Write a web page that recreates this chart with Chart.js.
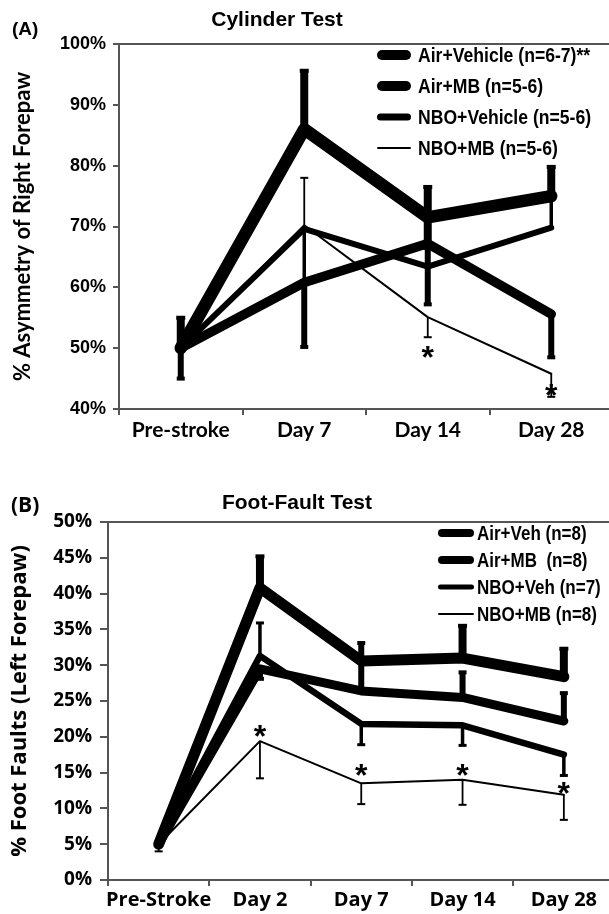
<!DOCTYPE html>
<html><head><meta charset="utf-8">
<script src="https://cdn.jsdelivr.net/npm/chart.js@4/dist/chart.umd.min.js"></script>
<style>
html,body{margin:0;padding:0;background:#fff;overflow:hidden;width:609px;height:914px}
#wrap{position:relative;width:609px;height:914px;overflow:hidden;background:#fff}
canvas{position:absolute;left:0}
#cA{top:0}#cB{top:457px}
</style></head><body>
<div id="wrap"><canvas id="cA" width="620" height="457"></canvas><canvas id="cB" width="620" height="457"></canvas></div>
<script>
// ---------- Panel A: Cylinder Test ----------
const catsA = ['Pre-stroke', 'Day 7', 'Day 14', 'Day 28'];
const ticksA = [40, 50, 60, 70, 80, 90, 100];
const labelsA = ['Air+Vehicle (n=6-7)**', 'Air+MB (n=5-6)', 'NBO+Vehicle (n=5-6)', 'NBO+MB (n=5-6)'];
const airVehA = [50, 86, 71.5, 75];
const airMbA = [50, 60.8, 67.2, 55.6];
const nboVehA = [50, 69.6, 63.4, 69.8];
const nboMbA = [50, 70.2, 55.1, 45.8];
const airVehA_up = [5, 9.6, 5, 4.8];
const airVehA_dn = [null, null, 5, null];
const airMbA_up = [null, null, null, null];
const airMbA_dn = [5, 10.6, 10, 7.1];
const nboVehA_up = [null, null, null, 5];
const nboVehA_dn = [null, 8.8, null, null];
const nboMbA_up = [null, 7.8, null, null];
const nboMbA_dn = [null, null, 3.3, 3.8];
const starsA = [null, null, 49.3, 43.1];

// ---------- Panel B: Foot-Fault Test ----------
const catsB = ['Pre-Stroke', 'Day 2', 'Day 7', 'Day 14', 'Day 28'];
const ticksB = [0, 5, 10, 15, 20, 25, 30, 35, 40, 45, 50];
const labelsB = ['Air+Veh (n=8)', 'Air+MB  (n=8)', 'NBO+Veh (n=7)', 'NBO+MB (n=8)'];
const airVehB = [5, 40.8, 30.6, 31.0, 28.4];
const airMbB = [5, 29.5, 26.4, 25.5, 22.2];
const nboVehB = [5, 31.3, 21.8, 21.6, 17.5];
const nboMbB = [5, 19.4, 13.5, 14.0, 11.9];
const airVehB_up = [null, 4.4, null, 4.5, 3.9];
const airVehB_dn = [null, null, null, null, null];
const airMbB_up = [null, null, 6.7, 3.5, 3.9];
const airMbB_dn = [null, 1.4, null, null, null];
const nboVehB_up = [null, 4.6, null, null, null];
const nboVehB_dn = [null, null, 2.9, 2.8, 2.9];
const nboMbB_up = [null, null, null, null, null];
const nboMbB_dn = [1, 5.2, 2.9, 3.5, 3.5];
const starsB = [null, 20.8, 15.4, 15.4, 12.8];

// ---------- styling ----------
const AXIS = '#555';
const errW = [8, 6, 3.5, 1.8];
const capW = [9, 8, 8, 8];
const capH = [4, 4, 3, 2];

function mkDatasets(labels, vals, ups, dns, lineW) {
  return vals.map((v, k) => ({
    label: labels[k], data: v,
    borderColor: '#000', backgroundColor: '#000',
    borderWidth: lineW[k], pointRadius: 0, pointHoverRadius: 0,
    borderCapStyle: 'round', borderJoinStyle: 'round', tension: 0, fill: false,
    errUp: ups[k], errDn: dns[k], errW: errW[k], capW: capW[k], capH: capH[k]
  }));
}

const deco = {
  id: 'deco',
  afterDatasetsDraw(chart, args, o) {
    const ctx = chart.ctx, ys = chart.scales.y;
    ctx.save();
    chart.data.datasets.forEach((ds, di) => {
      const meta = chart.getDatasetMeta(di);
      meta.data.forEach((pt, i) => {
        const v = ds.data[i];
        [[ds.errUp, 1], [ds.errDn, -1]].forEach(([arr, sg]) => {
          if (!arr || arr[i] == null) return;
          const y0 = ys.getPixelForValue(v), y1 = ys.getPixelForValue(v + sg * arr[i]);
          ctx.strokeStyle = '#000'; ctx.lineWidth = ds.errW; ctx.lineCap = 'butt';
          ctx.beginPath(); ctx.moveTo(pt.x, y0); ctx.lineTo(pt.x, y1); ctx.stroke();
          ctx.fillStyle = '#000';
          ctx.fillRect(pt.x - ds.capW / 2, y1 - ds.capH / 2, ds.capW, ds.capH);
        });
      });
    });
    const meta0 = chart.getDatasetMeta(0);
    ctx.fillStyle = '#000';
    ctx.font = o.starFont;
    ctx.textAlign = 'center'; ctx.textBaseline = 'alphabetic';
    const m = ctx.measureText('*');
    const off = (m.actualBoundingBoxAscent - m.actualBoundingBoxDescent) / 2;
    o.stars.forEach((s, i) => {
      if (s == null) return;
      ctx.fillText('*', meta0.data[i].x, ys.getPixelForValue(s) + off);
    });
    ctx.restore();
  },
  afterDraw(chart, args, o) {
    const ctx = chart.ctx, ca = chart.chartArea;
    ctx.save();
    ctx.strokeStyle = AXIS; ctx.lineWidth = 2;
    ctx.beginPath(); ctx.moveTo(ca.left - 1, ca.top); ctx.lineTo(chart.width, ca.top); ctx.stroke();
    ctx.fillStyle = '#000'; ctx.textBaseline = 'middle';
    ctx.font = o.titleFont; ctx.textAlign = 'center';
    ctx.fillText(o.title, o.titleX, o.titleY);
    ctx.font = o.panelFont; ctx.textAlign = 'left';
    ctx.fillText(o.panel, o.panelX, o.panelY);
    chart.data.datasets.forEach((ds, k) => {
      const y = o.legY + k * o.legStep;
      ctx.strokeStyle = '#000'; ctx.lineCap = 'round'; ctx.lineWidth = o.legW[k];
      ctx.beginPath(); ctx.moveTo(o.legX1 + o.legW[k] / 2, y); ctx.lineTo(o.legX2 - o.legW[k] / 2, y); ctx.stroke();
      ctx.font = o.legFont; ctx.textAlign = 'left'; ctx.textBaseline = 'middle';
      ctx.save(); ctx.translate(o.legTX, y); ctx.scale(o.legSX, 1);
      ctx.fillText(ds.label, 0, 1); ctx.restore();
    });
    ctx.restore();
  }
};

function mkOptions(cfg) {
  return {
    responsive: false, animation: false, devicePixelRatio: 1,
    layout: { padding: { top: cfg.top, right: cfg.right, left: 0, bottom: 0 } },
    plugins: { legend: { display: false }, tooltip: { enabled: false }, deco: cfg.deco },
    scales: {
      x: {
        type: 'category', offset: true,
        afterFit: s => { s.height = cfg.xh; },
        grid: { offset: true, drawOnChartArea: false, tickLength: 6, color: AXIS, lineWidth: 2 },
        border: { color: AXIS, width: 2 },
        ticks: { color: '#000', padding: cfg.xpad, maxRotation: 0, autoSkip: false, font: cfg.xFont }
      },
      y: {
        min: cfg.min, max: cfg.max,
        afterFit: s => { s.width = cfg.yw; },
        afterBuildTicks: s => { s.ticks = cfg.ticks.map(v => ({ value: v })); },
        grid: { drawOnChartArea: false, tickLength: cfg.ytl, color: AXIS, lineWidth: 2 },
        border: { color: AXIS, width: 2 },
        ticks: { color: '#000', padding: cfg.ypad, font: cfg.yFont, callback: v => v + '%' },
        title: { display: true, text: cfg.ytitle, color: '#000', font: cfg.yTitleFont, padding: { top: cfg.ytp, bottom: 0 } }
      }
    }
  };
}

new Chart(document.getElementById('cA'), {
  type: 'line',
  data: { labels: catsA, datasets: mkDatasets(labelsA, [airVehA, airMbA, nboVehA, nboMbA],
    [airVehA_up, airMbA_up, nboVehA_up, nboMbA_up], [airVehA_dn, airMbA_dn, nboVehA_dn, nboMbA_dn],
    [12.5, 9.5, 6, 2]) },
  options: mkOptions({
    top: 44, right: 7, xh: 48, yw: 119, min: 40, max: 100, ticks: ticksA, ytl: 6, ypad: 7, xpad: 3, ytp: 10,
    xFont: { family: 'Lato', weight: 'bold', size: 21 },
    yFont: { family: 'Liberation Sans', weight: 'bold', size: 18 },
    yTitleFont: { family: 'Lato', weight: 'bold', size: 22 },
    ytitle: '% Asymmetry of Right Forepaw',
    deco: {
      title: 'Cylinder Test', titleX: 277, titleY: 20, titleFont: 'bold 21px "Liberation Sans"',
      panel: '(A)', panelX: 12, panelY: 30, panelFont: 'bold 19px "Liberation Sans"',
      stars: starsA, starFont: 'bold 32px "Liberation Sans"',
      legX1: 377, legX2: 411, legTX: 418, legY: 55, legStep: 31, legW: [10, 10, 7, 2],
      legFont: 'bold 20px "Liberation Sans"', legSX: 0.88
    }
  }),
  plugins: [deco]
});

new Chart(document.getElementById('cB'), {
  type: 'line',
  data: { labels: catsB, datasets: mkDatasets(labelsB, [airVehB, airMbB, nboVehB, nboMbB],
    [airVehB_up, airMbB_up, nboVehB_up, nboMbB_up], [airVehB_dn, airMbB_dn, nboVehB_dn, nboMbB_dn],
    [11, 9, 6.5, 2]) },
  options: mkOptions({
    top: 65, right: 5.5, xh: 34, yw: 108, min: 0, max: 50, ticks: ticksB, ytl: 8, ypad: 8, xpad: 2, ytp: 7,
    xFont: { family: 'Open Sans', weight: 'bold', size: 20 },
    yFont: { family: 'Open Sans', weight: 'bold', size: 19 },
    yTitleFont: { family: 'Open Sans', weight: 'bold', size: 22 },
    ytitle: '% Foot Faults (Left Forepaw)',
    deco: {
      title: 'Foot-Fault Test', titleX: 297, titleY: 46, titleFont: 'bold 21px "Liberation Sans"',
      panel: '(B)', panelX: 11, panelY: 49, panelFont: 'bold 21px "Open Sans"',
      stars: starsB, starFont: 'bold 32px "Liberation Sans"',
      legX1: 438, legX2: 474, legTX: 477, legY: 76, legStep: 27, legW: [8, 8, 5, 2],
      legFont: 'bold 20px "Liberation Sans"', legSX: 0.85
    }
  }),
  plugins: [deco]
});
</script>
</body></html>
